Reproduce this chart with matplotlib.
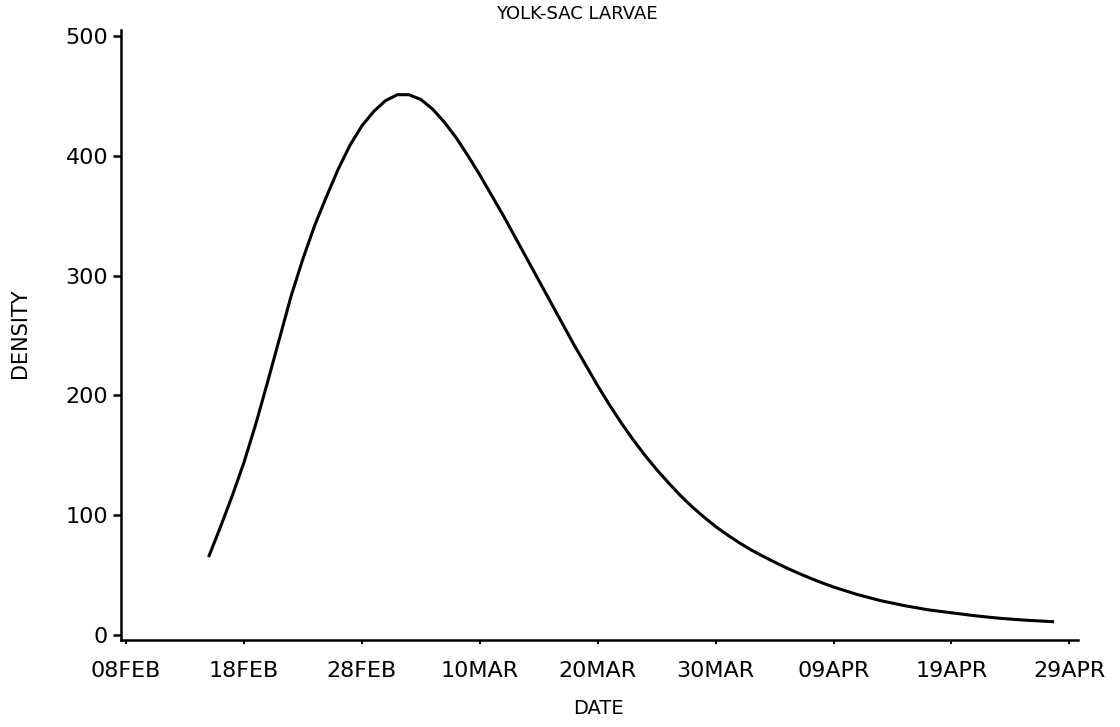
import numpy as np
import matplotlib
matplotlib.use("Agg")
import matplotlib.pyplot as plt

# days after 08FEB
days = [7, 8, 9, 10, 11, 12, 13, 14, 15, 16, 17, 18, 19, 20, 21, 22, 23, 24,
        25, 26, 27, 28, 29, 30, 31, 32, 33, 34, 35, 36, 37, 38, 39, 40, 41,
        42, 43, 44, 45, 46, 47, 48, 49, 50, 51, 52, 53, 54, 55, 56, 57, 58,
        59, 60, 62, 64, 66, 68, 70, 72, 74, 76, 78.7]
density = [65, 90, 116, 144, 176, 211, 247, 283, 314, 342, 366, 389, 409,
           425, 437, 446, 451, 451, 447, 439, 428, 415, 400, 384, 367, 350,
           332, 314, 296, 278, 260, 242, 225, 208, 192, 177, 163, 150, 138,
           127, 116.5, 107, 98.5, 90.5, 83.5, 77, 71, 65.8, 60.8, 56, 51.6,
           47.5, 43.6, 40, 33.8, 28.6, 24.5, 21, 18.5, 16, 14, 12.5, 11]

tick_days = [0, 10, 20, 30, 40, 50, 60, 70, 80]
tick_labels = ["08FEB", "18FEB", "28FEB", "10MAR", "20MAR",
               "30MAR", "09APR", "19APR", "29APR"]
y_ticks = [0, 100, 200, 300, 400, 500]

fig = plt.figure(figsize=(11.2, 7.27), dpi=100)
ax = fig.add_axes([0.1078, 0.1197, 0.8544, 0.839])

ax.plot(days, density, color="black", linewidth=2.2,
        solid_joinstyle="round", solid_capstyle="butt")

ax.set_xlim(-0.45, 80.7)
ax.set_ylim(-4.2, 505)
ax.set_xticks(tick_days)
ax.set_xticklabels(tick_labels)
ax.set_yticks(y_ticks)

for side in ["top", "right"]:
    ax.spines[side].set_visible(False)
for side in ["left", "bottom"]:
    ax.spines[side].set_linewidth(1.8)

ax.tick_params(axis="y", direction="out", length=6, width=1.8, labelsize=16, pad=3)
ax.tick_params(axis="x", direction="out", length=3, width=1.5, labelsize=16, pad=12)

fig.text(0.515, 0.981, "YOLK-SAC LARVAE", ha="center", va="center", fontsize=13)
fig.text(0.534, 0.025, "DATE", ha="center", va="center", fontsize=14)
fig.text(0.018, 0.542, "DENSITY", ha="center", va="center", rotation=90, fontsize=15)

fig.savefig("out.png", dpi=100, facecolor="white")
